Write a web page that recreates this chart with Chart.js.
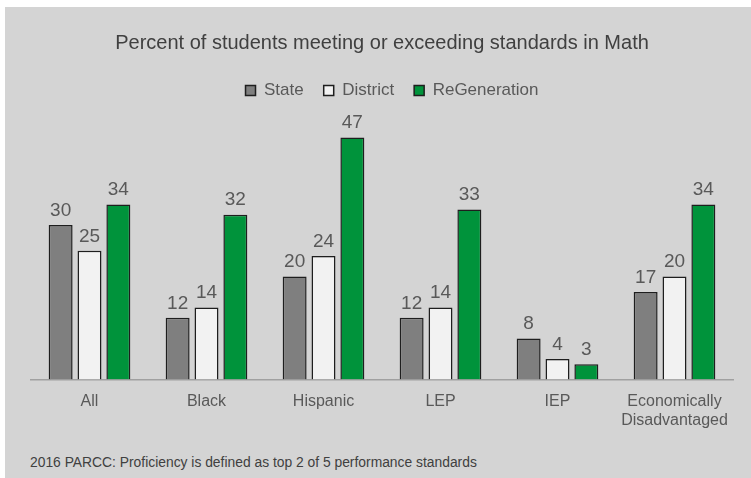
<!DOCTYPE html>
<html>
<head>
<meta charset="utf-8">
<script src="https://cdn.jsdelivr.net/npm/chart.js@4"></script>
<style>
  body { margin: 0; background: #ffffff; }
  #wrap { position: absolute; left: 5px; top: 7px; width: 746px; height: 471px; background: #d4d4d4; }
  #note { position: absolute; left: 25px; top: 447px; font: 13.85px "Liberation Sans", Arial, sans-serif; color: #404040; }
</style>
</head>
<body>
<div id="wrap">
  <canvas id="mathChart" width="746" height="440"></canvas>
  <div id="note">2016 PARCC: Proficiency is defined as top 2 of 5 performance standards</div>
</div>
<script>
const categories = ["All", "Black", "Hispanic", "LEP", "IEP", ["Economically", "Disadvantaged"]];
const stateValues = [30, 12, 20, 12, 8, 17];
const districtValues = [25, 14, 24, 14, 4, 20];
const regenValues = [34, 32, 47, 33, 3, 34];

// draws the number above each bar
const barLabels = {
  id: "barLabels",
  afterDatasetsDraw(chart) {
    const ctx = chart.ctx;
    ctx.save();
    ctx.font = "19px 'Liberation Sans', Arial, sans-serif";
    ctx.fillStyle = "#595959";
    ctx.textAlign = "center";
    ctx.textBaseline = "bottom";
    chart.data.datasets.forEach(function (ds, i) {
      chart.getDatasetMeta(i).data.forEach(function (bar, j) {
        ctx.fillText(ds.data[j], bar.x, bar.y - 5);
      });
    });
    ctx.restore();
  }
};

// extra space under the legend, and nudge it a little to the right
const legendGap = {
  id: "legendGap",
  beforeInit(chart) {
    const fit = chart.legend.fit;
    chart.legend.fit = function () {
      fit.bind(chart.legend)();
      this.height += 13;
    };
  },
  afterLayout(chart) {
    chart.legend.left += 10;
    chart.legend.right += 10;
  }
};

const ctx = document.getElementById("mathChart").getContext("2d");
new Chart(ctx, {
  type: "bar",
  data: {
    labels: categories,
    datasets: [
      { label: "State", data: stateValues, backgroundColor: "#7f7f7f" },
      { label: "District", data: districtValues, backgroundColor: "#f2f2f2" },
      { label: "ReGeneration", data: regenValues, backgroundColor: "#00933b" }
    ]
  },
  options: {
    responsive: false,
    animation: false,
    datasets: {
      bar: {
        borderColor: "#1e1e1e",
        borderWidth: 1.5,
        categoryPercentage: 0.74,
        barPercentage: 0.83
      }
    },
    layout: { padding: { left: 26, right: 18, top: 16, bottom: 5 } },
    plugins: {
      title: {
        display: true,
        text: "Percent of students meeting or exceeding standards in Math",
        color: "#404040",
        font: { family: "'Liberation Sans', Arial, sans-serif", size: 20, weight: "normal" },
        padding: { top: 8, bottom: 7 }
      },
      legend: {
        position: "top",
        labels: {
          color: "#595959",
          font: { family: "'Liberation Sans', Arial, sans-serif", size: 17 },
          boxWidth: 10,
          boxHeight: 10,
          padding: 20
        }
      },
      tooltip: { enabled: false }
    },
    scales: {
      x: {
        grid: { display: false, drawTicks: false },
        border: { display: true, color: "#a0a0a0", width: 1.5 },
        ticks: {
          color: "#595959",
          font: { family: "'Liberation Sans', Arial, sans-serif", size: 16 },
          padding: 12
        }
      },
      y: {
        display: false,
        min: 0,
        max: 50
      }
    }
  },
  plugins: [barLabels, legendGap]
});
</script>
</body>
</html>
